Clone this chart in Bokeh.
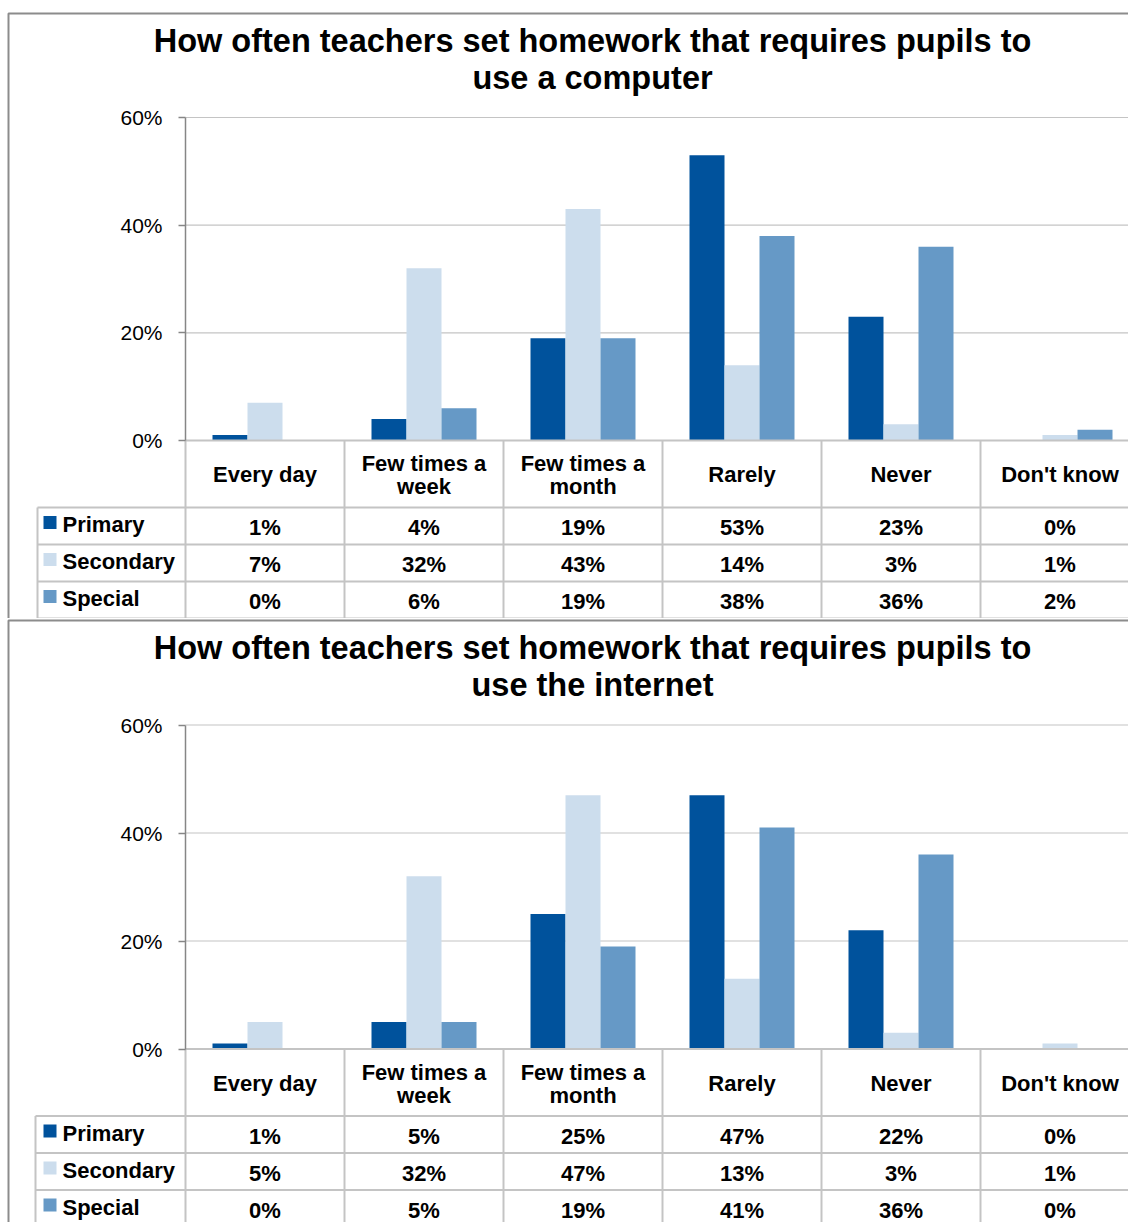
import numpy as np
from bokeh.plotting import figure
from bokeh.models import Range1d, LinearAxis, FixedTicker, PrintfTickFormatter
from bokeh.layouts import column
from bokeh.core.properties import value
from bokeh.embed import file_html
from bokeh.resources import INLINE

# ---------------- data ----------------
categories = ["Every day", "Few times a\nweek", "Few times a\nmonth", "Rarely", "Never", "Don't know"]
series_names = ["Primary", "Secondary", "Special"]
series_colors = ["#00529c", "#ccdded", "#6699c6"]
y_ticks = [0, 20, 40, 60]

computer_title = ["How often teachers set homework that requires pupils to", "use a computer"]
computer_primary = [1, 4, 19, 53, 23, 0]
computer_secondary = [7, 32, 43, 14, 3, 1]
computer_special = [0, 6, 19, 38, 36, 2]

internet_title = ["How often teachers set homework that requires pupils to", "use the internet"]
internet_primary = [1, 5, 25, 47, 22, 0]
internet_secondary = [5, 32, 47, 13, 3, 1]
internet_special = [0, 5, 19, 41, 36, 0]

# ---------------- layout constants (pixels) ----------------
FONT = "Liberation Sans"
W = 1128
X0 = 185        # left edge of first category column
CW = 159        # width of one category column
BW = 35         # bar width
GRID = "#c4c4c4"
AXIS = "#868686"
BASE_FIX = 0.39  # baseline correction (em)


def make_chart(title_lines, series, H, y_zero, y_sixty, border_top, title_base, table_left,
               header_h=67, row_h=37):
    s = (y_zero - y_sixty) / 60.0

    def vy(py):
        return (y_zero - py) / s

    def vx(px):
        return (px - X0) / CW

    def tb(py, size):
        # data y for a text whose alphabetic baseline should sit at pixel py
        return vy(py - BASE_FIX * size)

    p = figure(width=W, height=H, x_range=Range1d(vx(0), vx(W)), y_range=Range1d(vy(H), vy(0)),
               output_backend="svg", toolbar_location=None, x_axis_location=None,
               y_axis_location=None, min_border=0, title=None,
               background_fill_color="white", border_fill_color="white",
               outline_line_color=None)
    p.grid.visible = False
    p.xgrid.grid_line_color = None
    p.ygrid.grid_line_color = None

    n = len(categories)
    xr = vx(W + 20)

    # outer chart border
    p.line(x=[vx(8), vx(8), xr], y=[vy(H + 20), vy(border_top), vy(border_top)],
           line_color="#8c8c8c", line_width=2)

    # gridlines
    gt = [t for t in y_ticks if t > 0]
    p.segment(x0=[0] * len(gt), x1=[xr] * len(gt), y0=gt, y1=gt, line_color=GRID, line_width=1.2)

    # bars
    for k, (vals, color) in enumerate(zip(series, series_colors)):
        xs = np.arange(n) + 0.5 + (k - 1) * BW / CW
        p.vbar(x=xs, top=vals, bottom=0, width=BW / CW, fill_color=color, line_color=None)

    # table lines
    head_bot = y_zero + header_h
    rows_bot = [head_bot + row_h * (i + 1) for i in range(3)]
    table_bot = rows_bot[-1]
    p.segment(x0=[0], x1=[xr], y0=[0], y1=[0], line_color=GRID, line_width=2)
    hy = [head_bot] + rows_bot
    p.segment(x0=[vx(table_left)] * len(hy), x1=[xr] * len(hy),
              y0=[vy(v) for v in hy], y1=[vy(v) for v in hy], line_color=GRID, line_width=2)
    vxs = list(range(0, n + 1))
    p.segment(x0=vxs, x1=vxs, y0=[0] * len(vxs), y1=[vy(table_bot)] * len(vxs),
              line_color=GRID, line_width=2)
    p.segment(x0=[vx(table_left)], x1=[vx(table_left)], y0=[vy(head_bot)], y1=[vy(table_bot)],
              line_color=GRID, line_width=2)

    # y axis
    ax = LinearAxis(fixed_location=0, bounds=(0, 60), ticker=FixedTicker(ticks=y_ticks),
                    formatter=PrintfTickFormatter(format="%d%%"),
                    axis_line_color=AXIS, axis_line_width=1.5,
                    major_tick_line_color=AXIS, major_tick_line_width=1.5,
                    major_tick_out=7, major_tick_in=0, minor_tick_line_color=None,
                    major_label_text_font=FONT, major_label_text_font_size="21px",
                    major_label_text_color="black", major_label_standoff=16)
    p.add_layout(ax, "left")

    # title
    for i, line in enumerate(title_lines):
        p.text(x=[vx(592)], y=[tb(title_base + 37 * i, 32.5)], text=[line], text_align="center",
               text_baseline="alphabetic", text_font=value(FONT), text_font_style="bold",
               text_font_size="32.5px", text_color="black")

    # header (category labels)
    hx, hyy, ht = [], [], []
    for i, c in enumerate(categories):
        parts = c.split("\n")
        bases = [43] if len(parts) == 1 else [32, 55]
        for part, b in zip(parts, bases):
            hx.append(i + 0.5)
            hyy.append(tb(y_zero + b, 22))
            ht.append(part)
    p.text(x=hx, y=hyy, text=ht, text_align="center", text_baseline="alphabetic",
           text_font=value(FONT), text_font_style="bold", text_font_size="22px",
           text_color="black")

    # rows: legend keys, names and values
    for r, (name, color, vals) in enumerate(zip(series_names, series_colors, series)):
        top = head_bot + row_h * r
        p.scatter(x=[vx(49.5)], y=[vy(top + 15)], marker="square", size=13,
                  fill_color=color, line_color=None)
        p.text(x=[vx(62)], y=[tb(top + 26, 22)], text=[name], text_align="left",
               text_baseline="alphabetic", text_font=value(FONT), text_font_style="bold",
               text_font_size="22px", text_color="black")
        p.text(x=np.arange(n) + 0.5, y=[tb(top + 29, 22)] * n, text=[f"{v}%" for v in vals],
               text_align="center", text_baseline="alphabetic", text_font=value(FONT),
               text_font_style="bold", text_font_size="22px", text_color="black")
    return p


p1 = make_chart(computer_title, [computer_primary, computer_secondary, computer_special],
                H=618, y_zero=440, y_sixty=117, border_top=13, title_base=53, table_left=37)
p2 = make_chart(internet_title, [internet_primary, internet_secondary, internet_special],
                H=604, y_zero=430.5, y_sixty=106.5, border_top=2, title_base=42, table_left=35)

layout = column(p1, p2, spacing=0)
open("out.html", "w").write(file_html(layout, INLINE))
